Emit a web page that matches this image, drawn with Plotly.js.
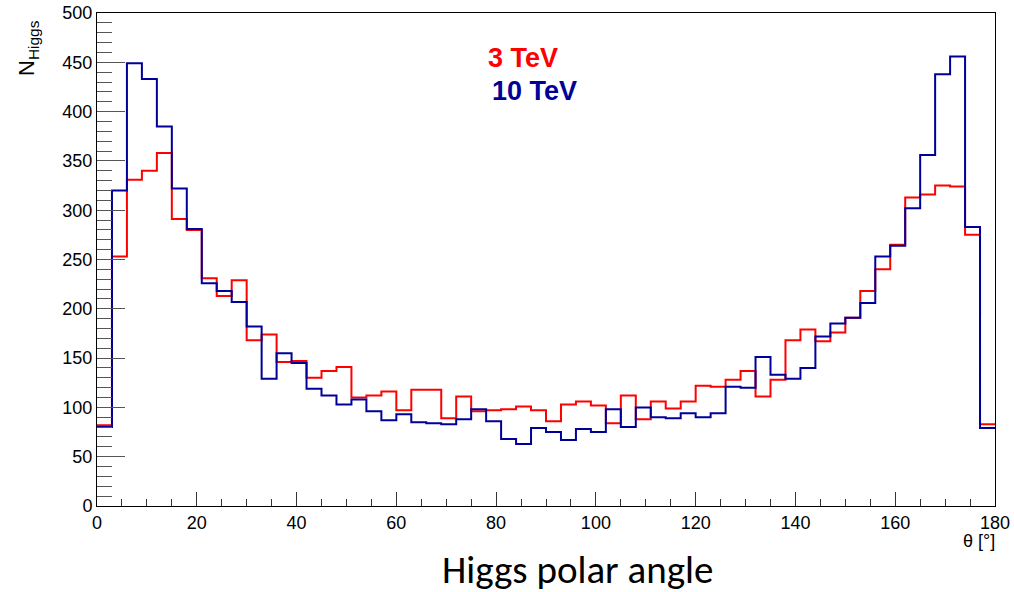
<!DOCTYPE html>
<html>
<head>
<meta charset="utf-8">
<script src="https://cdn.plot.ly/plotly-3.0.1.min.js"></script>
<style>
  html, body { margin: 0; padding: 0; background: #ffffff; }
  #chart { width: 1014px; height: 592px; }
</style>
</head>
<body>
<div id="chart"></div>
<script>
// Histogram of Higgs polar angle, 60 bins of 3 degrees from 0 to 180
const binWidth = 3;
const xMin = 0;
const xMax = 180;

const seriesNames = ["3 TeV", "10 TeV"];

const counts3TeV = [
  82, 253, 331, 340, 358, 291, 280, 231, 213, 229,
  168, 174, 146, 147, 130, 137, 141, 110, 112, 116,
  97, 118, 118, 89, 111, 96, 97, 98, 101, 97,
  86, 103, 106, 102, 84, 112, 88, 106, 99, 106,
  122, 121, 128, 137, 111, 128, 168, 179, 167, 176,
  191, 218, 240, 265, 313, 316, 325, 324, 275, 83
];

const counts10TeV = [
  80, 320, 449, 433, 385, 322, 281, 226, 218, 207,
  182, 129, 155, 145, 119, 112, 103, 108, 96, 87,
  93, 85, 84, 83, 88, 98, 86, 68, 63, 79,
  75, 67, 78, 75, 98, 80, 100, 90, 89, 94,
  90, 94, 121, 120, 151, 133, 129, 140, 172, 185,
  191, 206, 253, 264, 302, 356, 438, 456, 283, 79
];

const xTickVals = [0, 20, 40, 60, 80, 100, 120, 140, 160, 180];
const yTickVals = [0, 50, 100, 150, 200, 250, 300, 350, 400, 450, 500];

function stepTrace(counts, color, name) {
  const xs = [];
  const ys = [];
  for (let i = 0; i < counts.length; i++) {
    xs.push(xMin + i * binWidth);
    ys.push(counts[i]);
  }
  xs.push(xMin + counts.length * binWidth);
  ys.push(counts[counts.length - 1]);
  return {
    x: xs, y: ys, type: 'scatter', mode: 'lines', name: name,
    line: { shape: 'hv', color: color, width: 2 },
    hoverinfo: 'skip', showlegend: false
  };
}

const RED = '#ff0000';
const BLUE = '#000099';

const data = [
  stepTrace(counts3TeV, RED, seriesNames[0]),
  stepTrace(counts10TeV, BLUE, seriesNames[1])
];

const tickFont = { family: 'Liberation Sans, Arial, sans-serif', size: 18, color: '#000' };

const layout = {
  width: 1014, height: 592,
  margin: { l: 97, r: 19, t: 13, b: 86, pad: 0 },
  paper_bgcolor: '#ffffff', plot_bgcolor: '#ffffff',
  showlegend: false,
  xaxis: {
    range: [xMin, xMax], tickvals: xTickVals, ticktext: xTickVals.map(String),
    ticks: 'inside', ticklen: 14, tickwidth: 1, tickcolor: '#333',
    showgrid: false, zeroline: false,
    showline: true, linecolor: '#000', linewidth: 1, mirror: true,
    tickfont: tickFont,
    minor: { dtick: 5, ticks: 'inside', ticklen: 7, tickwidth: 1, tickcolor: '#333', showgrid: false }
  },
  yaxis: {
    range: [0, 500], tickvals: yTickVals, ticktext: yTickVals.map(String),
    ticks: 'inside', ticklen: 28, tickwidth: 1, tickcolor: '#555',
    showgrid: false, zeroline: false,
    showline: true, linecolor: '#000', linewidth: 1, mirror: true,
    tickfont: tickFont,
    minor: { dtick: 10, ticks: 'inside', ticklen: 15, tickwidth: 1, tickcolor: '#555', showgrid: false }
  },
  annotations: [
    { text: 'N<sub>Higgs</sub>', xref: 'paper', yref: 'paper', x: -0.0775, y: 0.93,
      xanchor: 'center', yanchor: 'middle', textangle: -90, showarrow: false,
      font: { family: 'Liberation Sans, Arial, sans-serif', size: 22, color: '#000' } },
    { text: '<b>3 TeV</b>', xref: 'paper', yref: 'paper', x: 0.4333, y: 0.9097,
      xanchor: 'left', yanchor: 'middle', showarrow: false,
      font: { family: 'Liberation Sans, Arial, sans-serif', size: 27, color: RED } },
    { text: '<b>10 TeV</b>', xref: 'paper', yref: 'paper', x: 0.4378, y: 0.8418,
      xanchor: 'left', yanchor: 'middle', showarrow: false,
      font: { family: 'Liberation Sans, Arial, sans-serif', size: 27, color: BLUE } },
    { text: 'θ [°]', xref: 'paper', yref: 'paper', x: 1.002, y: -0.071,
      xanchor: 'right', yanchor: 'middle', showarrow: false,
      font: { family: 'Liberation Sans, Arial, sans-serif', size: 18, color: '#000' } },
    { text: 'Higgs polar angle', xref: 'paper', yref: 'paper', x: 0.5356, y: -0.1298,
      xanchor: 'center', yanchor: 'middle', showarrow: false,
      font: { family: 'Carlito, Open Sans, sans-serif', size: 39, color: '#000' } }
  ]
};

Plotly.newPlot('chart', data, layout, { displayModeBar: false, staticPlot: true });
</script>
</body>
</html>
